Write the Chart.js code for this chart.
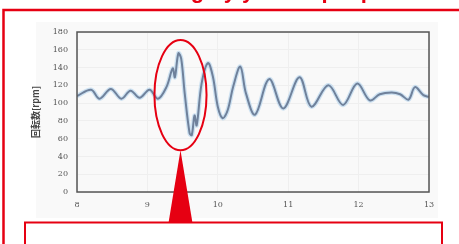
<!DOCTYPE html>
<html>
<head>
<meta charset="utf-8">
<script src="https://cdn.jsdelivr.net/npm/chart.js@4"></script>
<style>
  html, body { margin: 0; padding: 0; background: #fff; }
  #wrap { width: 459px; height: 244px; position: relative; }
</style>
</head>
<body>
<div id="wrap"><canvas id="rpmChart" width="459" height="244"></canvas></div>
<script>
// time [s] and rotor speed [rpm]
const times = [8.0, 8.2, 8.32, 8.48, 8.63, 8.76, 8.89, 9.03, 9.15, 9.27, 9.36, 9.39, 9.44, 9.48,
  9.53, 9.6, 9.63, 9.67, 9.7, 9.77, 9.86, 9.93, 10.0, 10.07, 10.14, 10.22, 10.32, 10.4, 10.53,
  10.73, 10.93, 11.16, 11.33, 11.57, 11.78, 11.98, 12.16, 12.3, 12.47, 12.59, 12.71, 12.8, 12.92, 13.0];
const rpm = [108, 115, 105, 116, 105, 114, 106, 115, 105, 118, 139, 129, 156, 150,
  111, 66, 64, 86, 75, 122, 145, 130, 96, 83, 92, 119, 141, 111, 87,
  127, 94, 129, 96, 120, 98, 122, 103, 110, 112, 110, 104, 118, 109, 107];
const yTicks = [0, 20, 40, 60, 80, 100, 120, 140, 160, 180];
const xTicks = [8, 9, 10, 11, 12, 13];

const points = times.map((t, i) => ({ x: t, y: rpm[i] }));

const red = "#e60012";

// red slide decorations: frame, title, ellipse, pointer and caption box
const slideDecor = {
  id: "slideDecor",
  beforeDraw(chart) {
    const ctx = chart.ctx;
    ctx.save();
    ctx.fillStyle = "#fff";
    ctx.fillRect(0, 0, chart.width, chart.height);
    ctx.fillStyle = "#f9f9f9";
    ctx.fillRect(36, 22, 402, 196);
    ctx.restore();
  },
  afterDraw(chart) {
    const ctx = chart.ctx;
    const xs = chart.scales.x;
    const ys = chart.scales.y;
    const area = chart.chartArea;
    ctx.save();

    // plot frame
    ctx.strokeStyle = "#555";
    ctx.lineWidth = 1.5;
    ctx.strokeRect(area.left, area.top, area.right - area.left, area.bottom - area.top);

    // title (cut off by the top edge)
    ctx.fillStyle = red;
    ctx.font = "bold 22px 'Liberation Sans', Arial, sans-serif";
    ctx.textAlign = "center";
    ctx.textBaseline = "alphabetic";
    ctx.fillText("Hunting by yaw step input", 258, -2);

    // outer frame
    ctx.strokeStyle = red;
    ctx.lineWidth = 2.5;
    ctx.strokeRect(3.5, 10, 470, 260);

    // ellipse around the first swing
    const cx = xs.getPixelForValue(9.47);
    const cy = ys.getPixelForValue(109);
    const rx = xs.getPixelForValue(9.47) - xs.getPixelForValue(9.1);
    const ry = ys.getPixelForValue(109) - ys.getPixelForValue(171);
    ctx.lineWidth = 2;
    ctx.beginPath();
    ctx.ellipse(cx, cy, rx, ry, 0, 0, Math.PI * 2);
    ctx.stroke();

    // pointer triangle
    const tipY = cy + ry;
    ctx.fillStyle = red;
    ctx.beginPath();
    ctx.moveTo(cx, tipY);
    ctx.lineTo(cx - 12, 223);
    ctx.lineTo(cx + 12, 223);
    ctx.closePath();
    ctx.fill();

    // caption box
    ctx.fillStyle = "#fff";
    ctx.fillRect(25, 222.5, 417, 40);
    ctx.strokeStyle = red;
    ctx.lineWidth = 2;
    ctx.strokeRect(25, 222.5, 417, 40);
    ctx.restore();
  }
};

new Chart(document.getElementById("rpmChart"), {
  type: "line",
  data: {
    datasets: [
      {
        data: points,
        borderColor: "#6f819b",
        borderWidth: 2,
        pointRadius: 0,
        tension: 0.35,
        fill: false,
        order: 0
      },
      {
        data: points,
        borderColor: "rgba(170, 205, 235, 0.55)",
        borderWidth: 4.5,
        pointRadius: 0,
        tension: 0.35,
        fill: false,
        order: 1
      }
    ]
  },
  options: {
    responsive: false,
    animation: false,
    events: [],
    layout: { padding: { top: 32, right: 30, left: 0, bottom: 0 } },
    plugins: {
      legend: { display: false },
      tooltip: { enabled: false }
    },
    scales: {
      x: {
        type: "linear",
        min: 8,
        max: 13,
        afterBuildTicks: (s) => { s.ticks = xTicks.map((v) => ({ value: v })); },
        afterFit: (s) => { s.height = 52; },
        grid: { color: "#efefef", drawTicks: false },
        border: { display: false },
        ticks: {
          padding: 8,
          color: "#555",
          font: { family: "'DejaVu Serif', serif", size: 8 }
        },
        title: {
          display: true,
          text: "時間[s]",
          color: "#777",
          padding: { top: 4 },
          font: { family: "'Noto Sans CJK JP', sans-serif", size: 8 }
        }
      },
      y: {
        min: 0,
        max: 180,
        afterBuildTicks: (s) => { s.ticks = yTicks.map((v) => ({ value: v })); },
        afterFit: (s) => { s.width = 77; },
        grid: { color: "#efefef", drawTicks: false },
        border: { display: false },
        ticks: {
          padding: 9,
          color: "#555",
          font: { family: "'DejaVu Serif', serif", size: 8 }
        },
        title: {
          display: true,
          text: "回転数[rpm]",
          color: "#444",
          padding: { top: 30, bottom: 0 },
          font: { family: "'Noto Sans CJK JP', sans-serif", size: 9, weight: "bold" }
        }
      }
    }
  },
  plugins: [slideDecor]
});
</script>
</body>
</html>
